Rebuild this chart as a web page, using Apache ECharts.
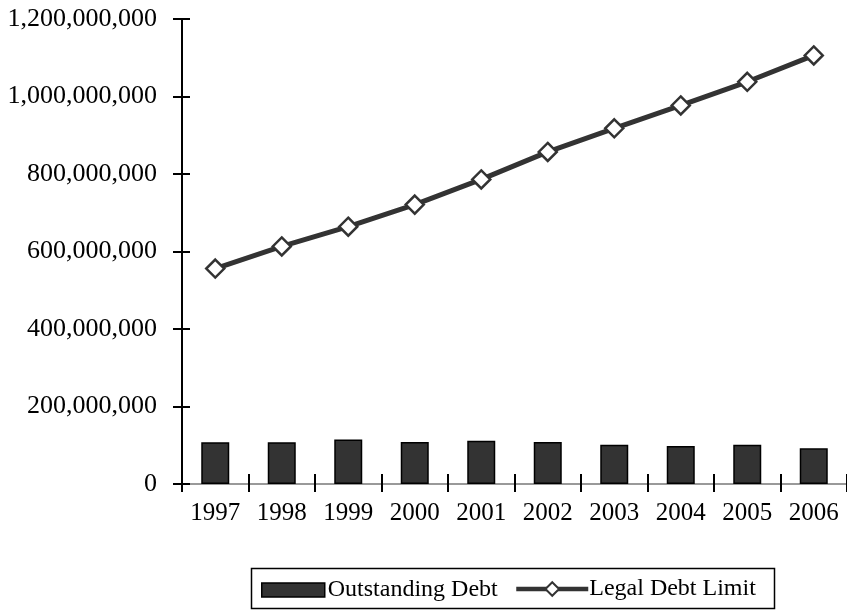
<!DOCTYPE html>
<html>
<head>
<meta charset="utf-8">
<script src="https://cdn.jsdelivr.net/npm/echarts@6/dist/echarts.min.js"></script>
<style>
  html, body { margin: 0; padding: 0; background: #fff; }
  #myChart { width: 847px; height: 613px; }
</style>
</head>
<body>
<div id="myChart"></div>
<script>
const years = ['1997', '1998', '1999', '2000', '2001', '2002', '2003', '2004', '2005', '2006']
const outstandingDebt = [108000000, 107500000, 115000000, 108500000, 111500000, 108500000, 101000000, 98000000, 101000000, 92000000]
const legalDebtLimit = [556000000, 613000000, 664000000, 721000000, 786000000, 857000000, 918000000, 977000000, 1038000000, 1106000000]
const yTicks = { min: 0, max: 1200000000, interval: 200000000 }

const font = 'Liberation Serif'
const fmt = v => String(v).replace(/\B(?=(\d{3})+(?!\d))/g, ',')

const option = {
  animation: false,
  backgroundColor: '#fff',
  textStyle: { fontFamily: font, color: '#000' },
  grid: { left: 182, top: 19, width: 669, bottom: 129, containLabel: false },
  xAxis: [
    {
      type: 'category', data: years, position: 'bottom',
      axisLine: { lineStyle: { color: '#000', width: 2 } },
      axisTick: { show: false },
      axisLabel: { fontFamily: font, fontSize: 25, color: '#000', margin: 17 },
      splitLine: { show: false }
    },
    {
      type: 'category', data: years, position: 'top',
      axisLine: { lineStyle: { color: '#999', width: 2 } },
      axisTick: { show: false },
      axisLabel: { show: false }
    },
    {
      // shifted up so its outward ticks cross the x axis line
      type: 'category', data: years, position: 'bottom', offset: -10,
      axisLine: { onZero: false, show: true, lineStyle: { color: 'rgba(0,0,0,0)', width: 1 } },
      axisTick: { show: true, length: 18, lineStyle: { color: '#000', width: 2 } },
      axisLabel: { show: false }
    }
  ],
  yAxis: [
    {
      type: 'value', position: 'left', ...yTicks,
      axisLine: { show: true, lineStyle: { color: '#000', width: 2 } },
      axisTick: { show: false },
      axisLabel: { fontFamily: font, fontSize: 26, color: '#000', margin: 25, formatter: fmt },
      splitLine: { show: false }
    },
    {
      // shifted right so its outward ticks cross the y axis line
      type: 'value', position: 'left', offset: -8, ...yTicks,
      axisLine: { onZero: false, show: true, lineStyle: { color: 'rgba(0,0,0,0)', width: 1 } },
      axisTick: { show: true, length: 17, lineStyle: { color: '#000', width: 2 } },
      axisLabel: { show: false },
      splitLine: { show: false }
    }
  ],
  legend: [
    {
      data: [{ name: 'Outstanding Debt', icon: 'rect' }], left: 256, top: 573,
      itemWidth: 63, itemHeight: 14, itemGap: 0,
      itemStyle: { borderColor: '#000', borderWidth: 1.5 },
      textStyle: { fontFamily: font, fontSize: 24, color: '#000', padding: [0, 0, 0, -2] }
    },
    {
      data: ['Legal Debt Limit'], left: 509, top: 572,
      itemWidth: 72, itemHeight: 17, itemGap: 0,
      lineStyle: { width: 4.5, color: '#333' },
      textStyle: { fontFamily: font, fontSize: 24, color: '#000', padding: [0, 0, 0, -4] }
    }
  ],
  graphic: [
    {
      type: 'rect', left: 249, top: 566,
      shape: { width: 523, height: 40 },
      style: { fill: 'none', stroke: '#000', lineWidth: 1.5 }
    }
  ],
  series: [
    {
      name: 'Outstanding Debt', type: 'bar', data: outstandingDebt,
      xAxisIndex: 0, yAxisIndex: 0, barWidth: 28,
      itemStyle: { color: '#333', borderColor: '#000', borderWidth: 1.5 }
    },
    {
      name: 'Legal Debt Limit', type: 'line', data: legalDebtLimit,
      xAxisIndex: 0, yAxisIndex: 0,
      symbol: 'diamond', symbolSize: 18,
      lineStyle: { color: '#333', width: 5 },
      itemStyle: { color: '#fff', borderColor: '#333', borderWidth: 2.5 }
    }
  ]
}

const myChart = echarts.init(document.getElementById('myChart'))
myChart.setOption(option)
</script>
</body>
</html>
